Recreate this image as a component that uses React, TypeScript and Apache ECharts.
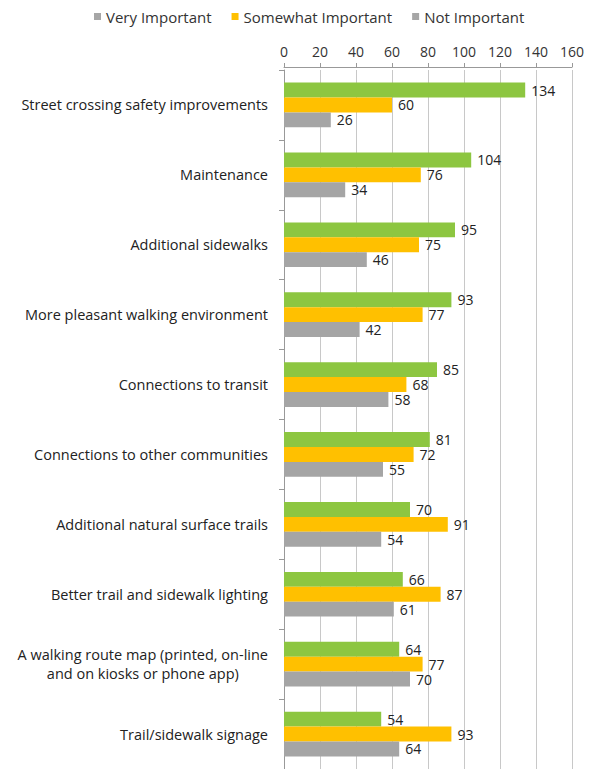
import React, { useEffect, useRef } from "react";
import * as echarts from "echarts";

const categories = [
  "Street crossing safety improvements",
  "Maintenance",
  "Additional sidewalks",
  "More pleasant walking environment",
  "Connections to transit",
  "Connections to other communities",
  "Additional natural surface trails",
  "Better trail and sidewalk lighting",
  "A walking route map (printed, on-line\nand on kiosks or phone app)",
  "Trail/sidewalk signage",
];
const veryImportant = [134, 104, 95, 93, 85, 81, 70, 66, 64, 54];
const somewhatImportant = [60, 76, 75, 77, 68, 72, 91, 87, 77, 93];
const notImportant = [26, 34, 46, 42, 58, 55, 54, 61, 70, 64];
const xTicks = [0, 160, 20];

const FONT = "'Open Sans', sans-serif";

export default function App() {
  const ref = useRef<HTMLDivElement>(null);
  useEffect(() => {
    if (!ref.current) return;
    const chart = echarts.init(ref.current, undefined, { renderer: "svg" });
    const label = {
      show: true,
      position: "right" as const,
      distance: 6,
      fontSize: 14,
      color: "#222",
      fontFamily: FONT,
    };
    const mk = (name: string, data: number[], color: string) => ({
      name,
      type: "bar" as const,
      data,
      barGap: "0%",
      barCategoryGap: "36%",
      itemStyle: { color },
      label,
    });
    chart.setOption({
      animation: false,
      backgroundColor: "#fff",
      textStyle: { fontFamily: FONT },
      legend: {
        top: 4,
        left: 89,
        itemWidth: 7,
        itemHeight: 7,
        itemGap: 20,
        textStyle: { fontSize: 15, color: "#333", fontFamily: FONT },
        data: [
          { name: "Very Important", icon: "rect", itemStyle: { color: "#a6a6a6" } },
          { name: "Somewhat Important", icon: "rect", itemStyle: { color: "#FFC000" } },
          { name: "Not Important", icon: "rect", itemStyle: { color: "#a6a6a6" } },
        ],
      },
      grid: { left: 284, right: 20, top: 70, bottom: -1 },
      xAxis: {
        type: "value",
        position: "top",
        offset: 3,
        min: xTicks[0],
        max: xTicks[1],
        interval: xTicks[2],
        axisLine: { show: true, lineStyle: { color: "#999" } },
        axisTick: { show: true, length: 4, lineStyle: { color: "#999" } },
        axisLabel: { margin: 9, fontSize: 14, color: "#333", fontFamily: FONT },
        splitLine: { show: true, lineStyle: { color: "#c8c8c8" } },
      },
      yAxis: {
        type: "category",
        inverse: true,
        data: categories,
        axisLine: { show: true, lineStyle: { color: "#999" } },
        axisTick: { show: true, length: 5, lineStyle: { color: "#999" } },
        axisLabel: {
          margin: 16,
          fontSize: 14.5,
          color: "#222",
          fontFamily: FONT,
          formatter: (v: string) =>
            v.includes("\n")
              ? v.split("\n").map((l) => `{c|${l}}`).join("\n")
              : v,
          rich: { c: { align: "center", fontSize: 14.5, color: "#222", fontFamily: FONT, lineHeight: 19 } },
        },
      },
      series: [
        mk("Very Important", veryImportant, "#8DC641"),
        mk("Somewhat Important", somewhatImportant, "#FFC000"),
        mk("Not Important", notImportant, "#A5A5A5"),
      ],
    });
    return () => chart.dispose();
  }, []);
  return (
    <div
      ref={ref}
      style={{ position: "absolute", left: 0, top: 0, width: 592, height: 769 }}
    />
  );
}
